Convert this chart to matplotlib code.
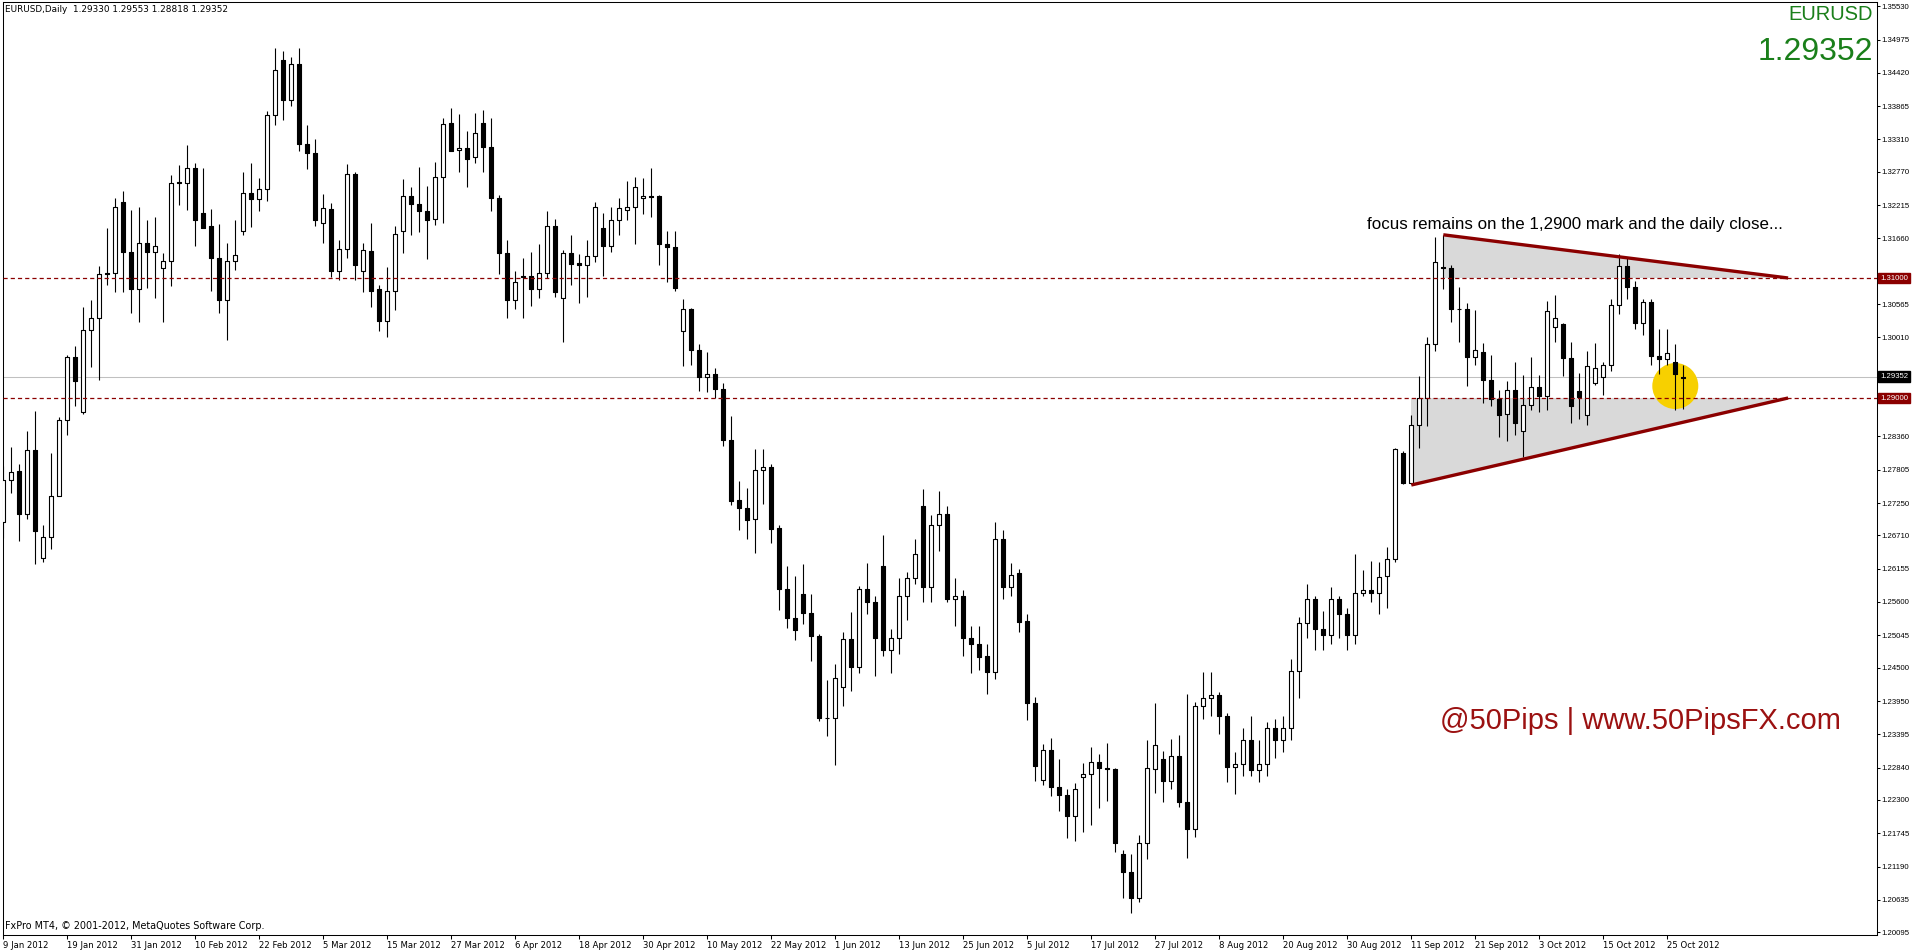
import matplotlib
matplotlib.use("Agg")
import matplotlib.pyplot as plt
from matplotlib.patches import Rectangle, Polygon, Ellipse
from matplotlib.collections import PatchCollection, LineCollection

plt.rcParams['font.family'] = ['Liberation Sans', 'DejaVu Sans']
plt.rcParams['lines.scale_dashes'] = False

W, H, DPI = 1914, 951, 100

# ---------------- data (EURUSD daily, 9 Jan 2012 .. 29 Oct 2012) ----------------
opens = [
 1.2694,1.2764,1.2778,1.2706,1.2814,1.2634,1.2668,1.2736,1.2863,1.2968,
 1.2877,1.3014,1.3034,1.3106,1.3108,1.3226,1.3143,1.3082,1.3159,1.3143,
 1.3116,1.3129,1.3259,1.3259,1.3284,1.3208,1.3186,1.3133,1.3064,1.3129,
 1.3179,1.3241,1.3232,1.3248,1.3371,1.3463,1.3396,1.3456,1.3323,1.3309,
 1.3191,1.3215,1.3111,1.3148,1.3273,1.3111,1.3145,1.3081,1.3029,1.3078,
 1.3179,1.3236,1.3223,1.3211,1.3198,1.3269,1.3358,1.3313,1.3316,1.3301,
 1.3358,1.3319,1.3233,1.3141,1.3064,1.3101,1.3104,1.3081,1.3108,1.3186,
 1.3066,1.3141,1.3125,1.3121,1.3136,1.3183,1.3154,1.3196,1.3214,1.3218,
 1.3234,1.3237,1.3236,1.3157,1.3151,1.3011,1.3049,1.2980,1.2935,1.2940,
 1.2915,1.2830,1.2730,1.2717,1.2698,1.2780,1.2785,1.2683,1.2582,1.2533,
 1.2574,1.2541,1.2503,1.2366,1.2366,1.2418,1.2499,1.2452,1.2581,1.2560,
 1.2620,1.2480,1.2500,1.2570,1.2600,1.2720,1.2585,1.2688,1.2707,1.2565,
 1.2570,1.2500,1.2490,1.2470,1.2444,1.2665,1.2585,1.2608,1.2528,1.2391,
 1.2263,1.2313,1.2251,1.2239,1.2204,1.2268,1.2273,1.2294,1.2284,1.2281,
 1.2140,1.2110,1.2066,1.2158,1.2282,1.2299,1.2261,1.2304,1.2226,1.2181,
 1.2386,1.2400,1.2405,1.2370,1.2285,1.2290,1.2330,1.2280,1.2290,1.2350,
 1.2330,1.2350,1.2445,1.2525,1.2565,1.2515,1.2505,1.2565,1.2540,1.2505,
 1.2575,1.2580,1.2575,1.2603,1.2632,1.2809,1.2758,1.2855,1.2900,1.2990,
 1.3119,1.3117,1.3048,1.3048,1.2968,1.2976,1.2930,1.2898,1.2874,1.2913,
 1.2845,1.2888,1.2918,1.2904,1.3018,1.3023,1.2967,1.2912,1.2872,1.2925,
 1.2935,1.2955,1.3055,1.3120,1.3085,1.3025,1.3060,1.2970,1.2965,1.2960,
 1.29330]
highs = [
 1.2787,1.2818,1.2790,1.2845,1.2878,1.2688,1.2808,1.2868,1.2972,1.2987,
 1.3052,1.3063,1.3120,1.3183,1.3233,1.3245,1.3213,1.3218,1.3197,1.3202,
 1.3142,1.3271,1.3288,1.3322,1.3291,1.3283,1.3215,1.3190,1.3158,1.3197,
 1.3277,1.3292,1.3266,1.3378,1.3484,1.3478,1.3469,1.3484,1.3355,1.3332,
 1.3240,1.3225,1.3163,1.3290,1.3277,1.3158,1.3191,1.3089,1.3118,1.3187,
 1.3265,1.3251,1.3285,1.3253,1.3293,1.3366,1.3384,1.3373,1.3345,1.3375,
 1.3380,1.3366,1.3238,1.3163,1.3112,1.3133,1.3143,1.3156,1.3211,1.3199,
 1.3146,1.3171,1.3140,1.3164,1.3226,1.3209,1.3218,1.3234,1.3261,1.3269,
 1.3266,1.3283,1.3239,1.3179,1.3178,1.3065,1.3050,1.2990,1.2976,1.2950,
 1.2925,1.2870,1.2761,1.2750,1.2815,1.2815,1.2790,1.2688,1.2620,1.2603,
 1.2624,1.2574,1.2507,1.2430,1.2457,1.2510,1.2543,1.2586,1.2625,1.2570,
 1.2671,1.2515,1.2600,1.2610,1.2665,1.2748,1.2705,1.2745,1.2720,1.2600,
 1.2580,1.2520,1.2520,1.2490,1.2693,1.2680,1.2625,1.2615,1.2540,1.2401,
 1.2324,1.2334,1.2298,1.2249,1.2258,1.2291,1.2318,1.2307,1.2325,1.2283,
 1.2147,1.2140,1.2172,1.2330,1.2392,1.2312,1.2332,1.2338,1.2407,1.2393,
 1.2443,1.2443,1.2410,1.2375,1.2310,1.2350,1.2370,1.2330,1.2360,1.2365,
 1.2370,1.2465,1.2535,1.2590,1.2570,1.2545,1.2585,1.2570,1.2550,1.2640,
 1.2613,1.2629,1.2626,1.2652,1.2816,1.2811,1.2872,1.2937,1.3002,1.3168,
 1.3171,1.3121,1.3085,1.3058,1.3047,1.2991,1.2971,1.2914,1.2929,1.2960,
 1.2938,1.2968,1.2938,1.3061,1.3071,1.3025,1.2993,1.2942,1.2979,1.2991,
 1.2960,1.3065,1.3140,1.3135,1.3095,1.3065,1.3065,1.3015,1.3015,1.2990,
 1.29553]
lows = [
 1.2666,1.2742,1.2661,1.2698,1.2624,1.2626,1.2649,1.2736,1.2838,1.2886,
 1.2874,1.2952,1.2930,1.3088,1.3077,1.3076,1.3041,1.3026,1.3084,1.3066,
 1.3027,1.3087,1.3221,1.3214,1.3154,1.3184,1.3079,1.3042,1.2997,1.3114,
 1.3171,1.3185,1.3211,1.3229,1.3355,1.3364,1.3387,1.3312,1.3281,1.3186,
 1.3159,1.3102,1.3096,1.3134,1.3096,1.3077,1.3051,1.3011,1.3002,1.3047,
 1.3141,1.3171,1.3177,1.3132,1.3188,1.3191,1.3311,1.3276,1.3251,1.3292,
 1.3277,1.3212,1.3106,1.3034,1.3049,1.3033,1.3053,1.3066,1.3100,1.3069,
 1.2994,1.3089,1.3058,1.3069,1.3127,1.3104,1.3144,1.3171,1.3196,1.3156,
 1.3207,1.3202,1.3121,1.3094,1.3079,1.2954,1.2955,1.2912,1.2910,1.2900,
 1.2820,1.2721,1.2680,1.2665,1.2642,1.2724,1.2658,1.2546,1.2516,1.2496,
 1.2524,1.2461,1.2361,1.2337,1.2289,1.2386,1.2411,1.2441,1.2540,1.2436,
 1.2470,1.2442,1.2473,1.2530,1.2590,1.2560,1.2560,1.2645,1.2560,1.2520,
 1.2470,1.2442,1.2446,1.2407,1.2432,1.2565,1.2570,1.2510,1.2364,1.2261,
 1.2255,1.2236,1.2212,1.2167,1.2162,1.2176,1.2189,1.2217,1.2229,1.2144,
 1.2067,1.2042,1.2060,1.2132,1.2242,1.2226,1.2248,1.2219,1.2134,1.2168,
 1.2365,1.2370,1.2340,1.2260,1.2240,1.2270,1.2270,1.2260,1.2270,1.2300,
 1.2310,1.2330,1.2400,1.2500,1.2480,1.2480,1.2490,1.2500,1.2480,1.2490,
 1.2570,1.2560,1.2540,1.2550,1.2627,1.2757,1.2757,1.2816,1.2854,1.2979,
 1.3082,1.3027,1.2994,1.2920,1.2955,1.2892,1.2887,1.2835,1.2829,1.2838,
 1.2802,1.2880,1.2877,1.2880,1.2993,1.2937,1.2859,1.2865,1.2855,1.2922,
 1.2905,1.2945,1.3040,1.3065,1.3015,1.3005,1.2955,1.2940,1.2955,1.2880,
 1.28818]
closes = [
 1.2764,1.2777,1.2706,1.2814,1.2679,1.2668,1.2737,1.2863,1.2968,1.2929,
 1.3014,1.3034,1.3106,1.3108,1.3218,1.3143,1.3082,1.3159,1.3143,1.3154,
 1.3129,1.3259,1.3260,1.3284,1.3196,1.3184,1.3133,1.3064,1.3129,1.3138,
 1.3241,1.3231,1.3248,1.3371,1.3447,1.3396,1.3456,1.3323,1.3309,1.3196,
 1.3216,1.3111,1.3148,1.3273,1.3121,1.3146,1.3079,1.3029,1.3078,1.3173,
 1.3236,1.3223,1.3211,1.3196,1.3268,1.3356,1.3312,1.3316,1.3299,1.3341,
 1.3319,1.3233,1.3141,1.3064,1.3094,1.3104,1.3081,1.3108,1.3186,1.3076,
 1.3141,1.3124,1.3121,1.3136,1.3218,1.3154,1.3196,1.3216,1.3218,1.3251,
 1.3237,1.3235,1.3157,1.3151,1.3083,1.3049,1.2980,1.2935,1.2940,1.2915,
 1.2830,1.2729,1.2716,1.2697,1.2780,1.2785,1.2682,1.2581,1.2533,1.2514,
 1.2541,1.2503,1.2366,1.2367,1.2433,1.2499,1.2452,1.2581,1.2560,1.2500,
 1.2480,1.2500,1.2570,1.2600,1.2640,1.2585,1.2688,1.2707,1.2565,1.2570,
 1.2500,1.2490,1.2469,1.2444,1.2665,1.2585,1.2605,1.2526,1.2391,1.2286,
 1.2313,1.2251,1.2239,1.2204,1.2249,1.2273,1.2294,1.2284,1.2281,1.2158,
 1.2110,1.2066,1.2158,1.2283,1.2321,1.2261,1.2304,1.2226,1.2181,1.2386,
 1.2400,1.2405,1.2370,1.2285,1.2290,1.2330,1.2280,1.2290,1.2350,1.2330,
 1.2350,1.2445,1.2525,1.2565,1.2515,1.2505,1.2565,1.2540,1.2505,1.2575,
 1.2580,1.2575,1.2602,1.2632,1.2815,1.2758,1.2855,1.2900,1.2990,1.3126,
 1.3117,1.3048,1.3049,1.2968,1.2980,1.2930,1.2898,1.2871,1.2913,1.2859,
 1.2888,1.2918,1.2904,1.3045,1.3034,1.2967,1.2887,1.2902,1.2954,1.2950,
 1.2955,1.3055,1.3120,1.3085,1.3025,1.3060,1.2970,1.2965,1.2975,1.2940,
 1.29352]

date_labels = ["9 Jan 2012", "19 Jan 2012", "31 Jan 2012", "10 Feb 2012", "22 Feb 2012",
               "5 Mar 2012", "15 Mar 2012", "27 Mar 2012", "6 Apr 2012", "18 Apr 2012",
               "30 Apr 2012", "10 May 2012", "22 May 2012", "1 Jun 2012", "13 Jun 2012",
               "25 Jun 2012", "5 Jul 2012", "17 Jul 2012", "27 Jul 2012", "8 Aug 2012",
               "20 Aug 2012", "30 Aug 2012", "11 Sep 2012", "21 Sep 2012", "3 Oct 2012",
               "15 Oct 2012", "25 Oct 2012"]
date_bar_step = 8

price_labels = ["1.35530", "1.34975", "1.34420", "1.33865", "1.33310", "1.32770", "1.32215",
                "1.31660", "1.30565", "1.30010", "1.28360", "1.27805", "1.27250", "1.26710",
                "1.26155", "1.25600", "1.25045", "1.24500", "1.23950", "1.23395", "1.22840",
                "1.22300", "1.21745", "1.21190", "1.20635", "1.20095"]

level_high = 1.3100
level_low = 1.2900
bid = 1.29352
tri_upper = ([180, 223.1], [1.3172, 1.3100])
tri_lower = ([176, 223.1], [1.2755, 1.2900])
circle_center = (209.0, 1.2920)

header = "EURUSD,Daily  1.29330 1.29553 1.28818 1.29352"
copyright_text = "FxPro MT4, \u00a9 2001-2012, MetaQuotes Software Corp."
note = "focus remains on the 1,2900 mark and the daily close..."
brand = "@50Pips | www.50PipsFX.com"

SMALL = ['DejaVu Sans']
AXISF = ['Liberation Sans', 'DejaVu Sans']

# ---------------- figure ----------------
fig = plt.figure(figsize=(W / DPI, H / DPI), dpi=DPI)
fig.patch.set_facecolor("white")
AX_L, AX_R, AX_T, AX_B = 3, 1877, 2, 935
ax = fig.add_axes([AX_L / W, 1 - AX_B / H, (AX_R - AX_L) / W, (AX_B - AX_T) / H])
PX = 8.0          # pixels per bar
X0 = 3.3          # pixel x of first bar
PPU = 6000.0      # pixels per price unit
ax.set_xlim((AX_L - X0) / PX, (AX_R - X0) / PX)
ax.set_ylim(level_high - (AX_B - 278) / PPU, level_high + (278 - AX_T) / PPU)

for s in ax.spines.values():
    s.set_linewidth(0.75)
    s.set_color("black")

# triangles (shaded) and trend lines
ax.add_patch(Polygon([(tri_upper[0][0], tri_upper[1][0]), (tri_upper[0][0], level_high),
                      (tri_upper[0][1], level_high)], closed=True, facecolor="#d9d9d9",
                     edgecolor="none", zorder=1))
ax.add_patch(Polygon([(tri_lower[0][0], tri_lower[1][0]), (tri_lower[0][0], level_low),
                      (tri_lower[0][1], level_low)], closed=True, facecolor="#d9d9d9",
                     edgecolor="none", zorder=1))

# yellow circle
ax.add_patch(Ellipse(circle_center, width=46 / PX, height=46 / PPU, facecolor="#f7d000",
                     edgecolor="none", zorder=1.5))

# bid line and levels
ax.axhline(bid, color="#c0c0c0", lw=0.75, zorder=1.2)
for lv in (level_high, level_low):
    ax.axhline(lv, color="#8b0000", lw=0.9, ls=(0, (3.0, 2.2)), zorder=4)

# candles
n = len(closes)
wicks = [[(i, lows[i]), (i, highs[i])] for i in range(n)]
ax.add_collection(LineCollection(wicks, colors="black", linewidths=0.8, zorder=2))
bull, bear = [], []
for i in range(n):
    o, c = opens[i], closes[i]
    lo, hi = min(o, c), max(o, c)
    h = max(hi - lo, 0.00001)
    r = Rectangle((i - 0.27, lo), 0.54, h)
    (bull if c >= o else bear).append(r)
ax.add_collection(PatchCollection(bull, facecolor="white", edgecolor="black", linewidth=0.8, zorder=3))
ax.add_collection(PatchCollection(bear, facecolor="black", edgecolor="black", linewidth=0.8, zorder=3))

ax.plot(tri_upper[0], tri_upper[1], color="#8b0000", lw=2.4, solid_capstyle="butt", zorder=5)
ax.plot(tri_lower[0], tri_lower[1], color="#8b0000", lw=2.4, solid_capstyle="butt", zorder=5)

# axes ticks
ax.yaxis.tick_right()
ax.set_yticks([float(v) for v in price_labels], labels=price_labels)
ax.tick_params(axis="y", which="both", direction="out", length=2.2, width=0.75, pad=1.0,
               labelsize=5.6, colors="black")
ax.set_xticks([k * date_bar_step for k in range(len(date_labels))], labels=date_labels)
ax.tick_params(axis="x", direction="out", length=3, width=0.75, pad=1.5, labelsize=6.1)
for lbl in ax.get_xticklabels():
    lbl.set_family(SMALL)
    lbl.set_horizontalalignment("left")
for lbl in ax.get_yticklabels():
    lbl.set_family(AXISF)

# highlighted price boxes on the right axis
def price_box(price, text, bg):
    ax.annotate(text, xy=(1.0, price), xycoords=("axes fraction", "data"),
                xytext=(2.2, 0), textcoords="offset points", va="center", ha="left",
                fontsize=5.6, family=AXISF, color="white", zorder=10,
                bbox=dict(boxstyle="square,pad=0.25", facecolor=bg, edgecolor=bg))

price_box(level_high, "1.31000", "#8b0000")
price_box(level_low, "1.29000", "#8b0000")
price_box(bid, "1.29352", "black")

# texts
fig.text(5 / W, 1 - 9 / H, header, fontsize=6.4, family=SMALL, va="center", ha="left")
fig.text(5 / W, 1 - 926 / H, copyright_text, fontsize=6.9, family=SMALL, va="center", ha="left")
fig.text(1873 / W, 1 - 15 / H, "EURUSD", fontsize=14.5, color="#1a7f1a", va="center", ha="right")
fig.text(1873 / W, 1 - 52 / H, "1.29352", fontsize=23, color="#1a7f1a", va="center", ha="right")
fig.text(1367 / W, 1 - 225 / H, note, fontsize=12.2, color="black", va="center", ha="left")
fig.text(1440 / W, 1 - 721 / H, brand, fontsize=21, color="#9b1111", va="center", ha="left")

fig.savefig("out.png", dpi=DPI, facecolor="white")
